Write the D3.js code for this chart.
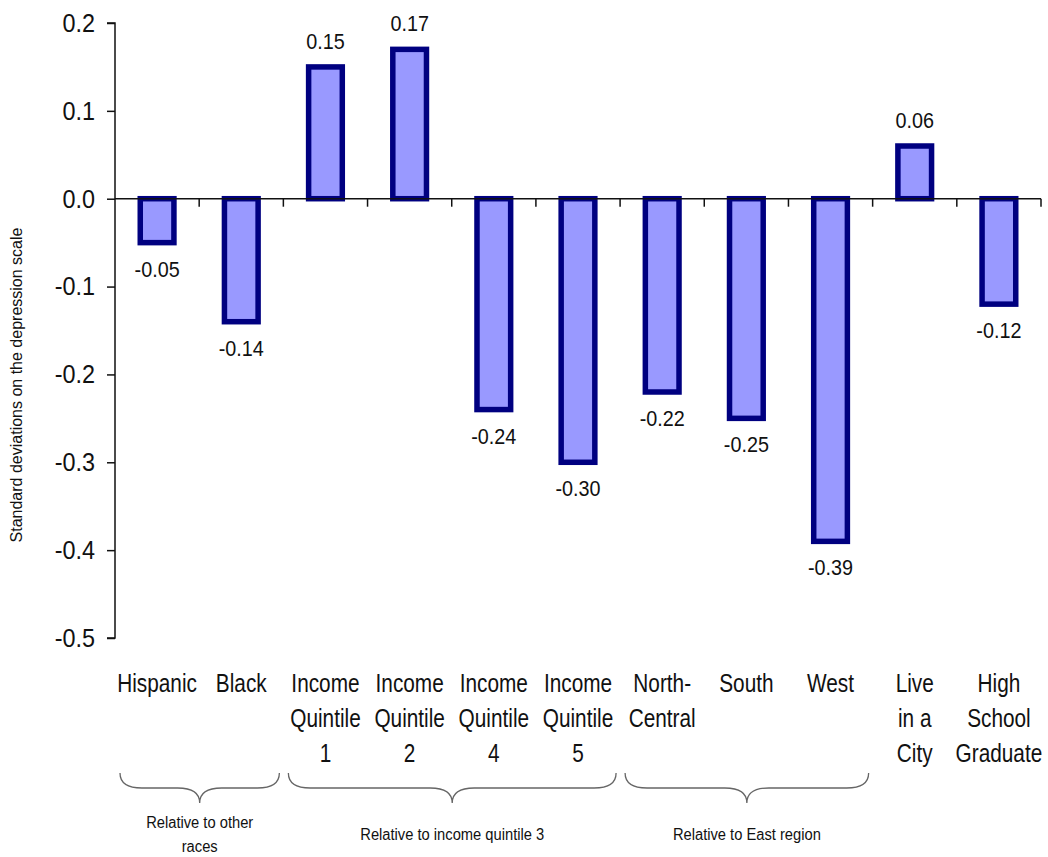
<!DOCTYPE html>
<html>
<head>
<meta charset="utf-8">
<script src="https://cdn.jsdelivr.net/npm/d3@7"></script>
<style>
  html, body { margin: 0; padding: 0; background: #fff; }
  svg { display: block; }
  text { font-family: "Liberation Sans", Arial, sans-serif; fill: #111; }
</style>
</head>
<body>
<svg id="chart" width="1048" height="857"></svg>
<script>
const categories = [
  ["Hispanic"], ["Black"],
  ["Income", "Quintile", "1"], ["Income", "Quintile", "2"], ["Income", "Quintile", "4"], ["Income", "Quintile", "5"],
  ["North-", "Central"], ["South"], ["West"],
  ["Live", "in a", "City"], ["High", "School", "Graduate"]
];
const values = [-0.05, -0.14, 0.15, 0.17, -0.24, -0.30, -0.22, -0.25, -0.39, 0.06, -0.12];
const yTicks = [0.2, 0.1, 0.0, -0.1, -0.2, -0.3, -0.4, -0.5];
const groupStart = [0, 2, 6];
const groupEnd = [1, 5, 8];
const groupLabels = [["Relative to other", "races"], ["Relative to income quintile 3"], ["Relative to East region"]];
const yTitle = "Standard deviations on the depression scale";

const svg = d3.select("#chart");
const mLeft = 115, mRight = 1041, mTop = 23, mBottom = 638;

const keys = categories.map((c, i) => i);
const x = d3.scaleBand().domain(keys).range([mLeft, mRight]).paddingInner(0.6).paddingOuter(0.3);
const y = d3.scaleLinear().domain([-0.5, 0.2]).range([mBottom, mTop]);
const step = x.step();

// Y axis
const yAxis = d3.axisLeft(y).tickValues(yTicks).tickFormat(d3.format(".1f")).tickSize(8).tickPadding(12);
const gy = svg.append("g").attr("transform", `translate(${mLeft},0)`).call(yAxis);
gy.select(".domain").attr("stroke", "#111").attr("stroke-width", 1.5).attr("d", `M-8,${y(0.2)}H0V${y(-0.5)}H-8`);
gy.selectAll(".tick line").attr("stroke", "#111").attr("stroke-width", 1.5);
gy.selectAll(".tick text").style("font-size", "26px").attr("fill", "#111")
  .attr("x", 0).attr("transform", "translate(-20,0) scale(0.9,1)")
  .text(d => d3.format(".1f")(d).replace("−", "-"));

// Y title
svg.append("text")
  .attr("transform", `translate(22,385) rotate(-90)`)
  .attr("text-anchor", "middle")
  .style("font-size", "16px")
  .text(yTitle);

// Bars
svg.append("g").selectAll("rect").data(values).join("rect")
  .attr("x", (d, i) => x(i))
  .attr("width", x.bandwidth())
  .attr("y", d => y(Math.max(0, d)))
  .attr("height", d => Math.abs(y(d) - y(0)))
  .attr("fill", "#9999ff")
  .attr("stroke", "#000080")
  .attr("stroke-width", 5.5);

// Zero axis with category ticks
const gx = svg.append("g");
gx.append("line").attr("x1", mLeft).attr("x2", mRight).attr("y1", y(0)).attr("y2", y(0))
  .attr("stroke", "#111").attr("stroke-width", 1.5);
gx.selectAll("line.tk").data(keys.slice(1).concat([keys.length])).join("line").attr("class", "tk")
  .attr("x1", i => mLeft + i * step).attr("x2", i => mLeft + i * step)
  .attr("y1", y(0)).attr("y2", y(0) + 8)
  .attr("stroke", "#111").attr("stroke-width", 1.5);

// Value labels
svg.append("g").selectAll("text").data(values).join("text")
  .attr("transform", (d, i) => `translate(${x(i) + x.bandwidth() / 2},${d >= 0 ? y(d) - 18 : y(d) + 34}) scale(0.9,1)`)
  .attr("text-anchor", "middle")
  .style("font-size", "22px")
  .text(d => d3.format(".2f")(d).replace("−", "-"));

// Category labels
const cl = svg.append("g").selectAll("text").data(categories).join("text")
  .attr("transform", (d, i) => `translate(${x(i) + x.bandwidth() / 2},692) scale(0.8,1)`)
  .attr("text-anchor", "middle")
  .style("font-size", "26px");
cl.selectAll("tspan").data(d => d).join("tspan")
  .attr("x", 0)
  .attr("dy", (d, j) => j === 0 ? 0 : 35)
  .text(d => d);

// Braces
const braceTop = 773, braceMid = 788, braceTip = 803;
groupStart.forEach((s, g) => {
  const x0 = mLeft + s * step + 5;
  const x1 = mLeft + (groupEnd[g] + 1) * step - 4;
  const m = (x0 + x1) / 2;
  const p = d3.path();
  p.moveTo(x0, braceTop);
  p.quadraticCurveTo(x0, braceMid, x0 + 22, braceMid);
  p.lineTo(m - 22, braceMid);
  p.quadraticCurveTo(m, braceMid, m, braceTip);
  p.quadraticCurveTo(m, braceMid, m + 22, braceMid);
  p.lineTo(x1 - 22, braceMid);
  p.quadraticCurveTo(x1, braceMid, x1, braceTop);
  svg.append("path").attr("d", p.toString()).attr("fill", "none")
    .attr("stroke", "#666").attr("stroke-width", 1.3);
  const lines = groupLabels[g];
  const t = svg.append("text").attr("text-anchor", "middle").style("font-size", "16px")
    .attr("transform", `translate(${m},${lines.length > 1 ? 828 : 840}) scale(0.92,1)`);
  lines.forEach((ln, j) => {
    t.append("tspan").attr("x", 0).attr("dy", j === 0 ? 0 : 24).text(ln);
  });
});
</script>
</body>
</html>
